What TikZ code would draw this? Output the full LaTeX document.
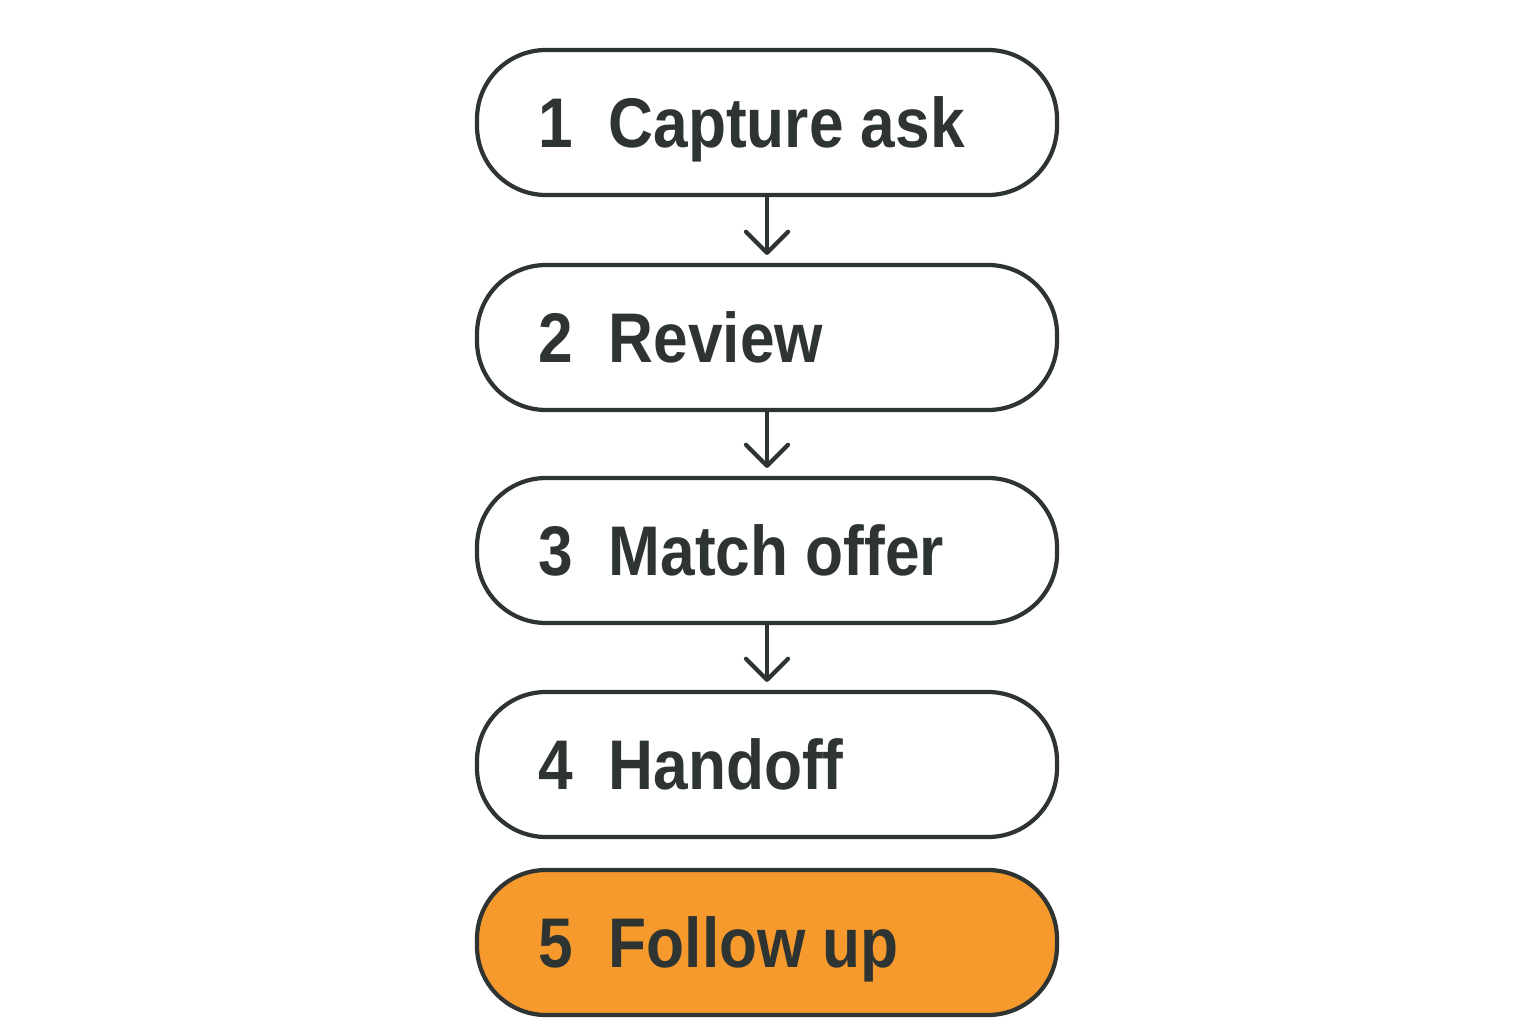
\documentclass[tikz,border=0pt]{standalone}
\usepackage{fontspec}
\setmainfont{Liberation Sans}[FakeStretch=0.885]
\usetikzlibrary{arrows.meta}
\definecolor{ink}{HTML}{2E3432}
\definecolor{accent}{HTML}{F79A2E}
\tikzset{
  stepbox/.style={draw=ink, line width=1.2pt, rounded corners=0.69cm, minimum width=5.8cm, minimum height=1.45cm, fill=white, inner sep=0pt},
  numtxt/.style={text=ink, font=\fontsize{20}{24}\selectfont\bfseries, anchor=base, inner sep=0pt},
  labtxt/.style={text=ink, font=\fontsize{20}{24}\selectfont\bfseries, anchor=base west, inner sep=0pt},
  flow/.style={draw=ink, line width=1.2pt, -{Straight Barb[length=2.1mm,width=4.2mm,line cap=round,line join=round]}, shorten >=0.08cm}
}
\begin{document}
\begin{tikzpicture}
\useasboundingbox (0,0) rectangle (15.36,10.24);
% box centres (px -> cm): y = (1024 - ypx)/100
\node[stepbox] (b1) at (7.67,9.015) {};
\node[stepbox] (b2) at (7.67,6.865) {};
\node[stepbox] (b3) at (7.67,4.735) {};
\node[stepbox] (b4) at (7.67,2.595) {};
\node[stepbox, fill=accent] (b5) at (7.67,0.815) {};
\foreach \b/\n/\t in {b1/1/Capture ask, b2/2/Review, b3/3/Match offer, b4/4/Handoff, b5/5/Follow up}{
  \node[numtxt] (\b n) at ([xshift=-2.11cm,yshift=-0.25cm]\b.center) {\n};
  \node[labtxt] (\b t) at ([xshift=-1.59cm,yshift=-0.25cm]\b.center) {\t};
}
\draw[flow] (b1.south) -- (b2.north);
\draw[flow] (b2.south) -- (b3.north);
\draw[flow] (b3.south) -- (b4.north);
\end{tikzpicture}
\end{document}
